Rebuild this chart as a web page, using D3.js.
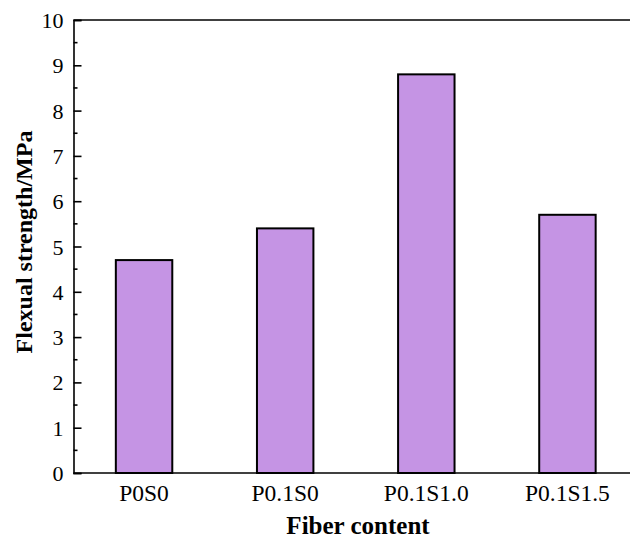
<!DOCTYPE html>
<html>
<head>
<meta charset="utf-8">
<script src="https://cdn.jsdelivr.net/npm/d3@7"></script>
<style>
  body { margin: 0; background: #fff; }
  text { font-family: "Liberation Serif", "Times New Roman", serif; fill: #000; }
</style>
</head>
<body>
<div id="chart"></div>
<script>
const categories = ['P0S0', 'P0.1S0', 'P0.1S1.0', 'P0.1S1.5']
const strength = [4.7, 5.4, 8.8, 5.7]
const yTicks = [0, 1, 2, 3, 4, 5, 6, 7, 8, 9, 10]
const yMinor = [0.5, 1.5, 2.5, 3.5, 4.5, 5.5, 6.5, 7.5, 8.5, 9.5]

let width = 630
let height = 544
let margin = {top: 20, right: -8, bottom: 71, left: 73.5}

let svg = d3.select('#chart').append('svg')
  .attr('width', width)
  .attr('height', height)

let x = d3.scaleBand()
  .domain(categories)
  .range([margin.left, width - margin.right])
  .paddingInner(0.6)
  .paddingOuter(0.3)

let y = d3.scaleLinear()
  .domain([0, 10])
  .range([height - margin.bottom, margin.top])

// bars
svg.append('g')
  .selectAll('rect')
  .data(strength)
  .join('rect')
  .attr('x', (d, i) => x(categories[i]))
  .attr('y', d => y(d))
  .attr('width', x.bandwidth())
  .attr('height', d => y(0) - y(d))
  .attr('fill', '#c594e4')
  .attr('stroke', '#000')
  .attr('stroke-width', 2)

// top frame line
svg.append('line')
  .attr('x1', margin.left).attr('x2', width)
  .attr('y1', y(10)).attr('y2', y(10))
  .attr('stroke', '#000').attr('stroke-width', 1.6)

// y axis, ticks pointing inward
let yAxis = svg.append('g')
  .attr('transform', `translate(${margin.left},0)`)
  .call(d3.axisRight(y).tickValues(yTicks).tickSize(8).tickFormat(''))
yAxis.select('.domain').attr('stroke-width', 1.6)
yAxis.selectAll('.tick line').attr('stroke-width', 1.6)

svg.append('g')
  .selectAll('line')
  .data(yMinor)
  .join('line')
  .attr('x1', margin.left).attr('x2', margin.left + 4)
  .attr('y1', d => y(d)).attr('y2', d => y(d))
  .attr('stroke', '#000').attr('stroke-width', 1.6)

svg.append('g')
  .selectAll('text')
  .data(yTicks)
  .join('text')
  .attr('x', margin.left - 10)
  .attr('y', d => y(d) + 8)
  .attr('text-anchor', 'end')
  .style('font-size', '22px')
  .text(d => d)

// x axis
svg.append('line')
  .attr('x1', margin.left).attr('x2', width)
  .attr('y1', y(0)).attr('y2', y(0))
  .attr('stroke', '#000').attr('stroke-width', 1.6)

svg.append('g')
  .selectAll('text')
  .data(categories)
  .join('text')
  .attr('x', d => x(d) + x.bandwidth() / 2)
  .attr('y', 501)
  .attr('text-anchor', 'middle')
  .style('font-size', '23.5px')
  .text(d => d)

// axis titles
svg.append('text')
  .attr('x', 358)
  .attr('y', 534)
  .attr('text-anchor', 'middle')
  .style('font-size', '25px')
  .style('font-weight', 'bold')
  .text('Fiber content')

svg.append('text')
  .attr('transform', 'translate(32,242) rotate(-90)')
  .attr('text-anchor', 'middle')
  .style('font-size', '24px')
  .style('font-weight', 'bold')
  .text('Flexual strength/MPa')
</script>
</body>
</html>
